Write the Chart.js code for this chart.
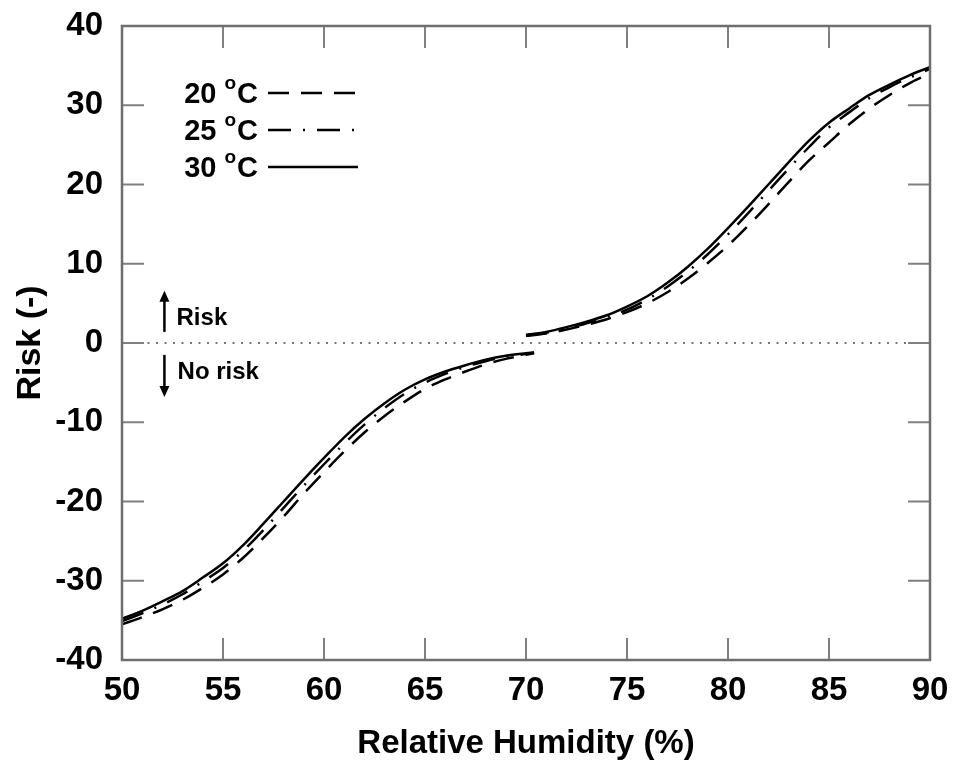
<!DOCTYPE html>
<html>
<head>
<meta charset="utf-8">
<script src="https://cdn.jsdelivr.net/npm/chart.js@4.4.0/dist/chart.umd.min.js"></script>
<style>
  html, body { margin: 0; padding: 0; background: #fff; }
  canvas { display: block; }
</style>
</head>
<body>
<canvas id="riskChart" width="957" height="760"></canvas>
<script>
// relative humidity (%) for the two branches
const rhLeft  = [50, 51, 52, 53, 54, 55, 56, 57, 58, 59, 60, 61, 62, 63, 64, 65, 66, 67, 68, 69, 70, 70.4];
const rhRight = [70, 71, 72, 73, 74, 75, 76, 77, 78, 79, 80, 81, 82, 83, 84, 85, 86, 87, 88, 89, 90];

// risk values
const risk20Left  = [-35.5, -34.6, -33.6, -32.4, -30.9, -29.2, -27.1, -24.6, -21.9, -19.0, -16.3, -13.7, -11.3, -9.2, -7.4, -5.8, -4.6, -3.6, -2.7, -2.0, -1.5, -1.3];
const risk20Right = [0.9, 1.2, 1.7, 2.3, 3.0, 3.9, 5.0, 6.4, 8.1, 10.1, 12.3, 14.8, 17.5, 20.3, 23.0, 25.3, 27.6, 29.6, 31.3, 32.8, 34.0];
const risk25Left  = [-35.1, -34.1, -33.0, -31.7, -30.1, -28.4, -26.2, -23.6, -20.8, -18.0, -15.3, -12.7, -10.3, -8.2, -6.4, -5.0, -3.9, -3.0, -2.3, -1.7, -1.4, -1.2];
const risk25Right = [1.0, 1.3, 1.8, 2.5, 3.3, 4.2, 5.5, 7.1, 9.0, 11.2, 13.7, 16.4, 19.2, 22.0, 24.7, 27.2, 29.1, 30.9, 32.3, 33.5, 34.6];
const risk30Left  = [-34.8, -33.8, -32.6, -31.3, -29.6, -27.8, -25.5, -22.8, -20.0, -17.2, -14.5, -11.9, -9.6, -7.6, -5.9, -4.6, -3.6, -2.8, -2.1, -1.6, -1.3, -1.2];
const risk30Right = [1.0, 1.4, 2.0, 2.7, 3.5, 4.6, 5.9, 7.6, 9.6, 11.9, 14.5, 17.2, 20.0, 22.8, 25.5, 27.8, 29.6, 31.3, 32.6, 33.8, 34.8];

const seriesLabels = ['20', '25', '30'];
const seriesDash = [[21, 12], [23, 12, 2, 12], []];

const xTicks = [50, 55, 60, 65, 70, 75, 80, 85, 90];
const yTicks = [-40, -30, -20, -10, 0, 10, 20, 30, 40];

const FONT = '"Liberation Sans", Arial, sans-serif';

function branchPoints(left, leftVals, right, rightVals) {
  const pts = left.map((x, i) => ({ x: x, y: leftVals[i] }));
  pts.push({ x: 70.2, y: null }); // break between the two branches
  right.forEach((x, i) => pts.push({ x: x, y: rightVals[i] }));
  return pts;
}

const curves = [
  branchPoints(rhLeft, risk20Left, rhRight, risk20Right),
  branchPoints(rhLeft, risk25Left, rhRight, risk25Right),
  branchPoints(rhLeft, risk30Left, rhRight, risk30Right)
];

const datasets = curves.map((pts, i) => ({
  label: seriesLabels[i],
  data: pts,
  borderColor: '#000',
  borderWidth: 2.5,
  borderDash: seriesDash[i],
  pointRadius: 0,
  spanGaps: false,
  cubicInterpolationMode: 'monotone'
}));

// zero line
datasets.push({
  label: 'zero',
  data: [{ x: 50, y: 0 }, { x: 90, y: 0 }],
  borderColor: '#777',
  borderWidth: 2,
  borderDash: [2, 6.5],
  pointRadius: 0
});

// frame + inward ticks
const frame = {
  id: 'frame',
  afterDraw(chart) {
    const { ctx, chartArea: { top, bottom, left, right }, scales: { x, y } } = chart;
    ctx.save();
    ctx.strokeStyle = '#808080';
    ctx.lineWidth = 2;
    ctx.beginPath();
    xTicks.forEach(v => {
      const px = x.getPixelForValue(v);
      ctx.moveTo(px, bottom); ctx.lineTo(px, bottom - 22);
      ctx.moveTo(px, top); ctx.lineTo(px, top + 22);
    });
    yTicks.forEach(v => {
      const py = y.getPixelForValue(v);
      ctx.moveTo(left, py); ctx.lineTo(left + 22, py);
      ctx.moveTo(right, py); ctx.lineTo(right - 22, py);
    });
    ctx.stroke();
    ctx.strokeStyle = '#6e6e6e';
    ctx.lineWidth = 2.5;
    ctx.strokeRect(left, top, right - left, bottom - top);
    ctx.restore();
  }
};

// legend inside the plot + risk arrows
const notes = {
  id: 'notes',
  afterDraw(chart) {
    const { ctx, chartArea: { top, left }, scales: { x, y } } = chart;
    ctx.save();
    ctx.fillStyle = '#000';
    ctx.strokeStyle = '#000';

    // legend
    seriesLabels.forEach((lab, i) => {
      const rowY = top + 67 + i * 37;
      const textRight = left + 136;
      ctx.textBaseline = 'middle';
      ctx.font = 'bold 29px ' + FONT;
      const wNum = ctx.measureText(lab + ' ').width;
      const wC = ctx.measureText('C').width;
      ctx.font = 'bold 19px ' + FONT;
      const wO = ctx.measureText('o').width + 1;
      let px = textRight - wC - wO - wNum;
      ctx.font = 'bold 29px ' + FONT;
      ctx.textAlign = 'left';
      ctx.fillText(lab + ' ', px, rowY + 2);
      px += wNum;
      ctx.font = 'bold 19px ' + FONT;
      ctx.fillText('o', px, rowY - 9);
      px += wO;
      ctx.font = 'bold 29px ' + FONT;
      ctx.fillText('C', px, rowY + 2);

      ctx.lineWidth = 2.5;
      ctx.setLineDash(seriesDash[i]);
      ctx.beginPath();
      ctx.moveTo(textRight + 10, rowY);
      ctx.lineTo(textRight + 100, rowY);
      ctx.stroke();
      ctx.setLineDash([]);
    });

    // arrows
    const ax = x.getPixelForValue(52.1);
    const arrow = (y0, y1) => {
      const p0 = y.getPixelForValue(y0), p1 = y.getPixelForValue(y1);
      const dir = p1 < p0 ? 1 : -1;
      ctx.lineWidth = 2.5;
      ctx.beginPath();
      ctx.moveTo(ax, p0); ctx.lineTo(ax, p1 + dir * 8);
      ctx.stroke();
      ctx.beginPath();
      ctx.moveTo(ax, p1);
      ctx.lineTo(ax - 5, p1 + dir * 11);
      ctx.lineTo(ax + 5, p1 + dir * 11);
      ctx.closePath();
      ctx.fill();
    };
    arrow(1.4, 6.6);
    arrow(-1.5, -6.8);

    ctx.font = 'bold 24px ' + FONT;
    ctx.textAlign = 'left';
    ctx.textBaseline = 'middle';
    ctx.fillText('Risk', x.getPixelForValue(52.7), y.getPixelForValue(3.1));
    ctx.fillText('No risk', x.getPixelForValue(52.75), y.getPixelForValue(-3.7));
    ctx.restore();
  }
};

new Chart(document.getElementById('riskChart'), {
  type: 'line',
  data: { datasets },
  options: {
    responsive: false,
    animation: false,
    layout: { padding: { top: 26, right: 27, left: 0, bottom: 0 } },
    plugins: { legend: { display: false }, tooltip: { enabled: false } },
    scales: {
      x: {
        type: 'linear',
        min: 50, max: 90,
        afterBuildTicks: (s) => { s.ticks = xTicks.map(v => ({ value: v })); },
        afterFit: (s) => { s.height = 100; s.paddingLeft = 0; s.paddingRight = 0; },
        ticks: { color: '#000', padding: 3, font: { family: FONT, size: 33, weight: 'bold' } },
        grid: { display: false },
        border: { display: false },
        title: {
          display: true, text: 'Relative Humidity (%)', color: '#000',
          font: { family: FONT, size: 33, weight: 'bold' }, padding: { top: 0, bottom: -4 }
        }
      },
      y: {
        min: -40, max: 40,
        afterBuildTicks: (s) => { s.ticks = yTicks.map(v => ({ value: v })); },
        afterFit: (s) => { s.width = 122; s.paddingTop = 0; s.paddingBottom = 0; },
        ticks: { color: '#000', padding: 11, font: { family: FONT, size: 33, weight: 'bold' } },
        grid: { display: false },
        border: { display: false },
        title: {
          display: true, text: 'Risk (-)', color: '#000',
          font: { family: FONT, size: 34, weight: 'bold' }, padding: { top: 10, bottom: 0 }
        }
      }
    }
  },
  plugins: [frame, notes]
});
</script>
</body>
</html>
